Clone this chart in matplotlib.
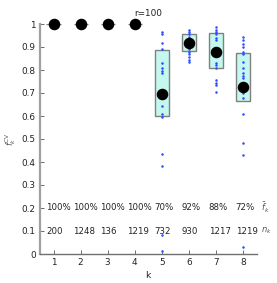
import matplotlib
matplotlib.use("Agg")
import matplotlib.pyplot as plt
import numpy as np

ks = [1, 2, 3, 4, 5, 6, 7, 8]
means = [1.0, 1.0, 1.0, 1.0, 0.696, 0.916, 0.880, 0.724]
box_lo = [1.0, 1.0, 1.0, 1.0, 0.600, 0.884, 0.810, 0.665]
box_hi = [1.0, 1.0, 1.0, 1.0, 0.887, 0.955, 0.960, 0.875]
fold_k1 = [1.0]
fold_k2 = [1.0]
fold_k3 = [1.0]
fold_k4 = [1.0]
fold_k5 = [0.965, 0.955, 0.916, 0.89, 0.829, 0.807, 0.797, 0.786, 0.643, 0.609, 0.594, 0.435, 0.381, 0.083, 0.013]
fold_k6 = [0.975, 0.965, 0.955, 0.945, 0.935, 0.89, 0.88, 0.87, 0.855, 0.845, 0.835]
fold_k7 = [0.985, 0.975, 0.965, 0.955, 0.94, 0.93, 0.83, 0.82, 0.81, 0.757, 0.745, 0.735, 0.706]
fold_k8 = [0.945, 0.93, 0.915, 0.9, 0.88, 0.87, 0.836, 0.81, 0.787, 0.775, 0.765, 0.73, 0.72, 0.70, 0.68, 0.609, 0.481, 0.429, 0.03]
pct_labels = ["100%", "100%", "100%", "100%", "70%", "92%", "88%", "72%"]
n_labels = ["200", "1248", "136", "1219", "732", "930", "1217", "1219"]

folds = [fold_k1, fold_k2, fold_k3, fold_k4, fold_k5, fold_k6, fold_k7, fold_k8]

fig = plt.figure(figsize=(2.77, 2.83), dpi=100)
ax = fig.add_axes([40/277, 29/283, 216.5/277, 230/283])

ax.bar(ks, np.array(box_hi) - np.array(box_lo), bottom=box_lo, width=0.52,
       color="#c4f7ee", edgecolor="#808080", linewidth=1.0, zorder=2)

for k, f in zip(ks, folds):
    ax.plot([k] * len(f), f, ls="none", marker="o", ms=1.8, color="#2a4bff",
            mec="none", zorder=3, clip_on=False)

ax.plot(ks, means, ls="none", marker="o", ms=7.3, color="black", zorder=4, clip_on=False)

for k, p, n in zip(ks, pct_labels, n_labels):
    ax.text(k - 0.27, 0.2, p, fontsize=6.2, color="#222222", ha="left", va="center", zorder=5)
    ax.text(k - 0.27, 0.1, n, fontsize=6.2, color="#222222", ha="left", va="center", zorder=5)
ax.text(8.68, 0.2, r"$\bar{f}_k$", fontsize=6, color="#555555", ha="left", va="center", clip_on=False)
ax.text(8.68, 0.1, r"$n_k$", fontsize=6, color="#555555", ha="left", va="center", clip_on=False)

ax.set_xlim(0.5, 8.5)
ax.set_ylim(0, 1)
ax.set_xticks(ks)
ax.set_yticks(np.round(np.arange(0, 1.01, 0.1), 1))
ax.set_yticklabels(["%g" % v for v in np.round(np.arange(0, 1.01, 0.1), 1)])
ax.tick_params(direction="in", length=3, width=0.6, color="#555555", labelsize=6.4,
               labelcolor="#222222", pad=3)
for s in ["top", "right"]:
    ax.spines[s].set_visible(False)
ax.spines["left"].set_color("#a0a0a0")
ax.spines["left"].set_linewidth(1.6)
ax.spines["bottom"].set_color("#707070")
ax.spines["bottom"].set_linewidth(1.0)

ax.set_title("r=100", fontsize=6.4, color="#222222", pad=6)
ax.set_xlabel("k", fontsize=6.6, color="#222222", labelpad=3)
ax.set_ylabel(r"$f_k^{\rm CV}$", fontsize=6, color="#555555", labelpad=3)

fig.savefig("out.png", dpi=100)
